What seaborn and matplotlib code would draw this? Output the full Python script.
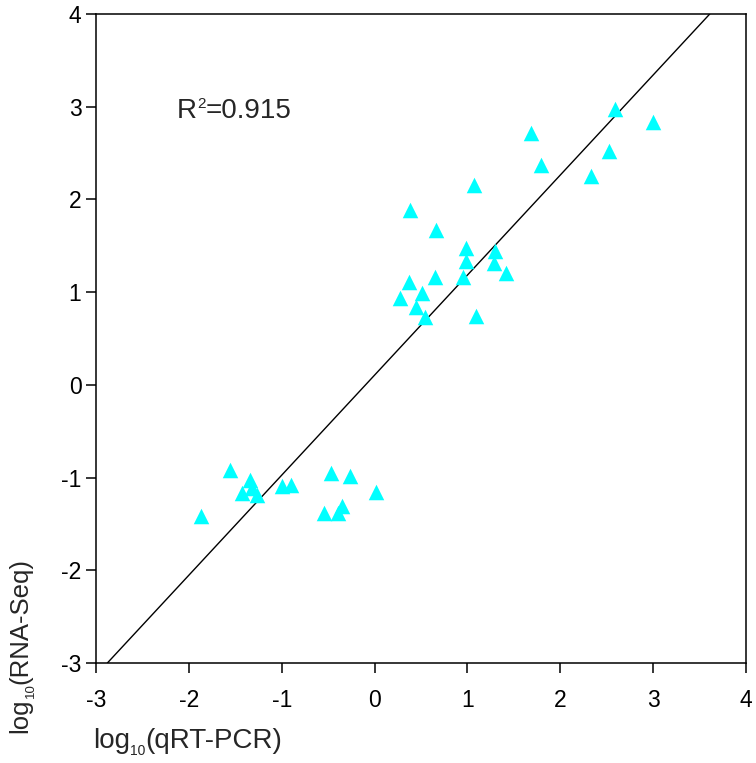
import numpy as np
import pandas as pd
import matplotlib
matplotlib.use("Agg")
import matplotlib.pyplot as plt
import seaborn as sns

# values
qrt_pcr = [-1.87, -1.56, -1.43, -1.34, -1.32, -1.27, -1.00, -0.90, -0.47, -0.27,
           0.02, -0.54, -0.39, -0.35,
           1.07, 0.38, 0.66, 0.98, 0.98, 1.30, 1.29, 1.41, 0.95, 0.65,
           0.37, 0.27, 0.51, 0.45, 0.54, 1.09,
           2.59, 3.00, 1.68, 1.79, 2.52, 2.33]
rna_seq = [-1.41, -0.92, -1.17, -1.03, -1.11, -1.19, -1.09, -1.08, -0.95, -0.98,
           -1.16, -1.38, -1.38, -1.31,
           2.16, 1.89, 1.67, 1.48, 1.34, 1.44, 1.31, 1.21, 1.16, 1.16,
           1.11, 0.94, 0.99, 0.84, 0.73, 0.74,
           2.98, 2.84, 2.72, 2.37, 2.52, 2.25]

# fitted line shown in the figure
fit_slope = 1.079
fit_intercept = 0.105
r_squared = 0.915

axis_ticks = [-3, -2, -1, 0, 1, 2, 3, 4]

MAIN_SIZE = 20
SMALL_SIZE = 10


def text_run(fig, x, y, pieces, rotated=False):
    """Write text pieces one after another; each piece is (text, size, shift in px)."""
    renderer = fig.canvas.get_renderer()
    W, H = fig.bbox.width, fig.bbox.height
    px, py = x * W, y * H
    for txt, size, shift in pieces:
        if rotated:
            t = fig.text((px + shift) / W, py / H, txt, fontsize=size, rotation=90,
                         rotation_mode="anchor", ha="left", va="baseline")
            py = t.get_window_extent(renderer).y1
        else:
            t = fig.text(px / W, (py + shift) / H, txt, fontsize=size,
                         ha="left", va="baseline")
            px = t.get_window_extent(renderer).x1


sns.set_style("ticks")
plt.rcParams["font.family"] = ["Liberation Sans", "DejaVu Sans"]

df = pd.DataFrame({"qrt_pcr": qrt_pcr, "rna_seq": rna_seq})

fig = plt.figure(figsize=(7.56, 7.63), dpi=100)
ax = fig.add_axes([96 / 756, 1 - 663 / 763, 650 / 756, 649 / 763])

sns.scatterplot(data=df, x="qrt_pcr", y="rna_seq", marker="^", s=125,
                color="#00FFFF", linewidth=0, ax=ax, zorder=3)
ax.axline((0, fit_intercept), slope=fit_slope, color="black", linewidth=1.0, zorder=2)

ax.set_xlim(axis_ticks[0], axis_ticks[-1])
ax.set_ylim(axis_ticks[0], axis_ticks[-1])
ax.set_xticks(axis_ticks)
ax.set_yticks(axis_ticks)
ax.set_xticklabels([str(t) for t in axis_ticks])
ax.set_yticklabels([str(t) for t in axis_ticks])

for side in ["top", "right", "bottom", "left"]:
    ax.spines[side].set_visible(True)
    ax.spines[side].set_color("black")
    ax.spines[side].set_linewidth(1.1)

ax.tick_params(axis="both", direction="out", length=7, width=1.1,
               labelsize=16.5, colors="black")
ax.tick_params(axis="x", pad=12)
ax.tick_params(axis="y", pad=3.5)

ax.set_xlabel("")
ax.set_ylabel("")

# axis titles with small subscripts, as in the original
text_run(fig, 93 / 756, 1 - 748 / 763,
         [("log", MAIN_SIZE, 0), ("10", SMALL_SIZE, -7), ("(qRT-PCR)", MAIN_SIZE, 0)])
text_run(fig, 27 / 756, 1 - 733 / 763,
         [("log", 18.5, 0), ("10", 9.5, 7), ("(RNA-Seq)", 18.5, 0)],
         rotated=True)

# R^2 annotation
text_run(fig, 177 / 756, 1 - 118 / 763,
         [("R", MAIN_SIZE, 0), ("2", SMALL_SIZE + 1, 10), (f"={r_squared}", MAIN_SIZE, 0)])

fig.savefig("out.png", dpi=100)
